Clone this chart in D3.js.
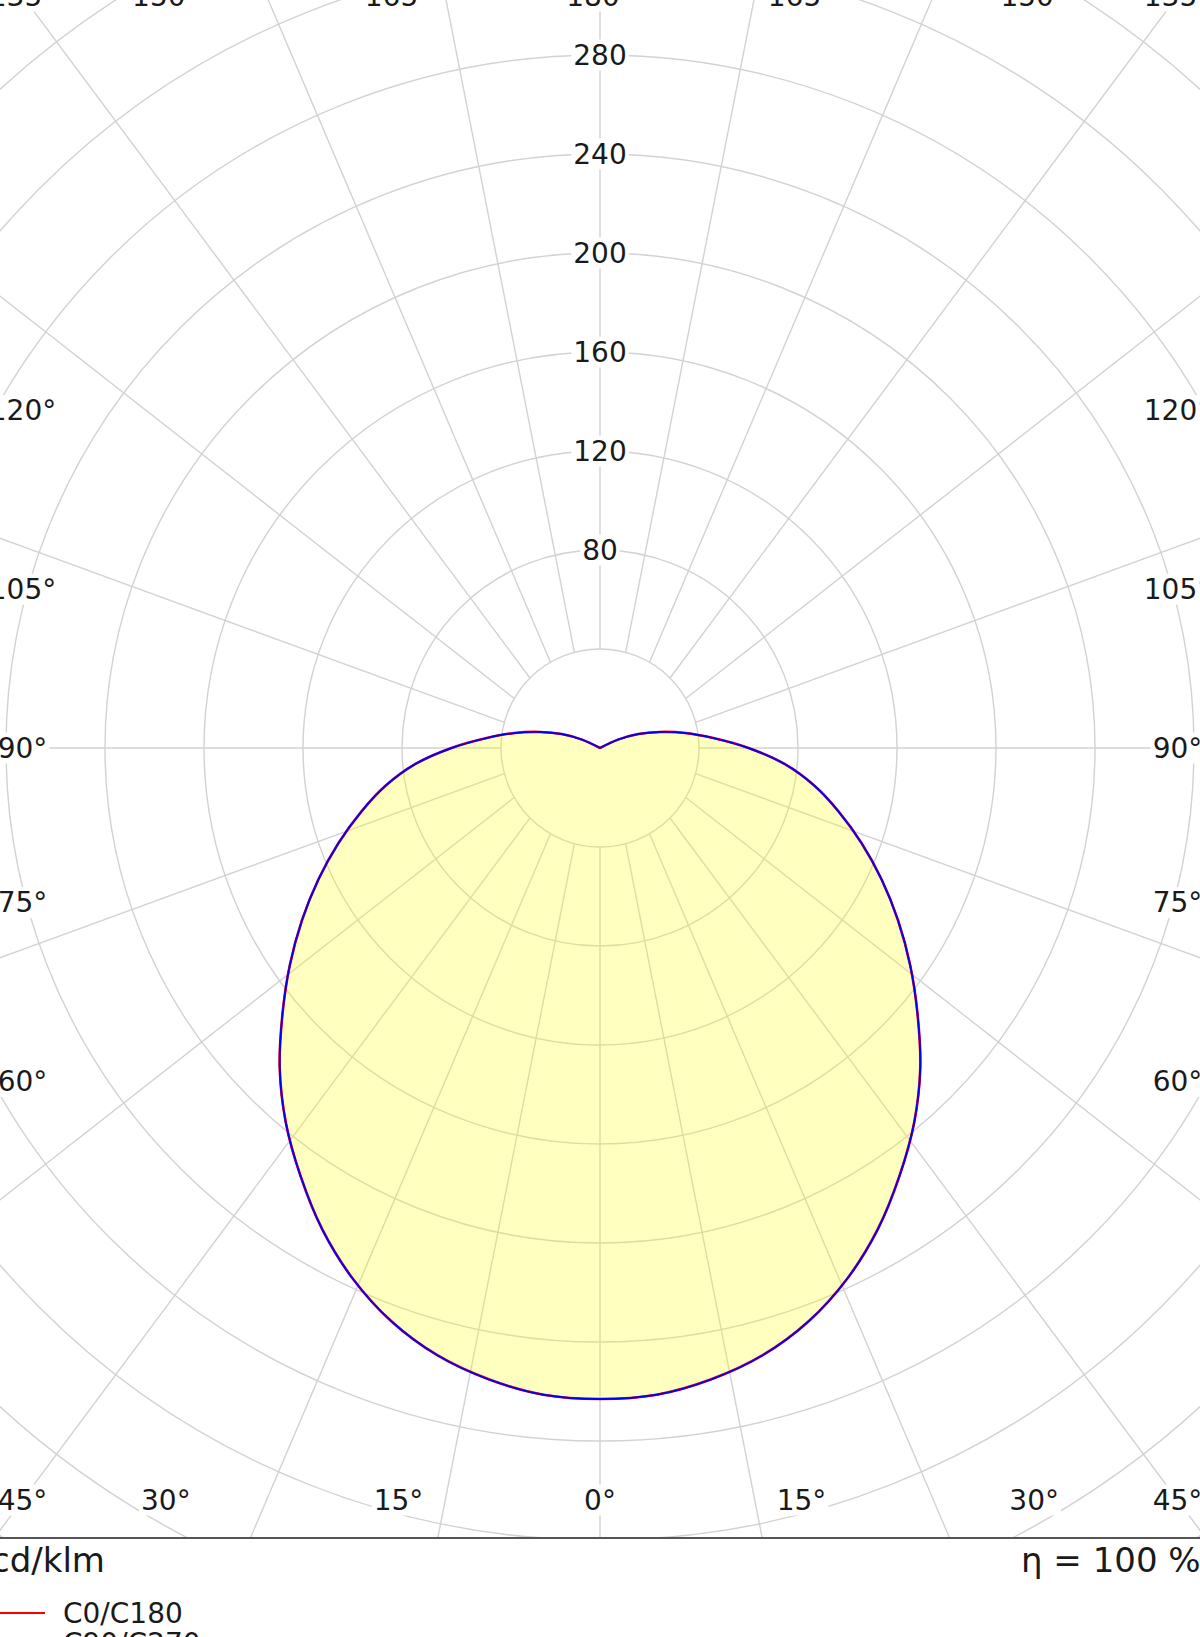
<!DOCTYPE html>
<html>
<head>
<meta charset="utf-8">
<script src="https://cdn.jsdelivr.net/npm/d3@7"></script>
<style>
  html, body { margin: 0; padding: 0; background: #fff; }
  svg { display: block; }
  text { font-family: "DejaVu Sans", Verdana, sans-serif; fill: #1a1a1a; }
</style>
</head>
<body>
<svg id="chart" width="1200" height="1637"></svg>
<script>
// ---- data (cd/klm, gamma angles in degrees) ----
const gammaAngles = [0, 5, 10, 15, 20, 25, 30, 35, 40, 45, 50, 55, 60, 65, 70, 75, 80, 85, 90,
                     95, 100, 105, 110, 115, 120, 125, 130, 135, 140, 145, 150, 155, 160, 165, 170, 175, 180];
const c0   = [263, 262.3, 259, 254, 246.5, 236.5, 224.5, 211, 197.5, 183, 167.5, 153, 139, 125.5, 112.5, 100, 88, 75, 60,
              46, 35, 25, 16.5, 8, 0, 0, 0, 0, 0, 0, 0, 0, 0, 0, 0, 0, 0];
const c180 = [263, 262.3, 259, 254, 246.5, 236.5, 224.5, 211, 197.5, 183, 167.5, 153, 139, 125.5, 112.5, 100, 88, 75, 60,
              46, 35, 25, 16.5, 8, 0, 0, 0, 0, 0, 0, 0, 0, 0, 0, 0, 0, 0];
const c90  = [263, 262.3, 259, 254, 246.5, 236.5, 224.5, 211, 197.5, 183, 167.5, 153, 139, 125.5, 112.5, 100, 88, 75, 60,
              46, 35, 25, 16.5, 8, 0, 0, 0, 0, 0, 0, 0, 0, 0, 0, 0, 0, 0];
const c270 = [263, 262.3, 259, 254, 246.5, 236.5, 224.5, 211, 197.5, 183, 167.5, 153, 139, 125.5, 112.5, 100, 88, 75, 60,
              46, 35, 25, 16.5, 8, 0, 0, 0, 0, 0, 0, 0, 0, 0, 0, 0, 0, 0];
const ringTicks = [40, 80, 120, 160, 200, 240, 280, 320, 360, 400, 440];
const ringLabels = [80, 120, 160, 200, 240, 280];
const angleTicks = [0, 15, 30, 45, 60, 75, 90, 105, 120, 135, 150, 165, 180];
const seriesNames = ["C0/C180", "C90/C270"];
const seriesColors = ["#ff0000", "#0000ff"];
const unitLabel = "cd/klm";
const effLabel = "η = 100 %";

// ---- layout ----
const W = 1200, H = 1637;
const cx = 600, cy = 748;
const halfW = 577.5, halfH = 752;
const plotBottom = 1538;

const svg = d3.select("#chart");
const r = d3.scaleLinear().domain([0, 40]).range([0, 99]);
const rad = d => d * Math.PI / 180;

const defs = svg.append("defs");
defs.append("clipPath").attr("id", "plotClip")
  .append("rect").attr("x", -20).attr("y", -100).attr("width", W + 40).attr("height", plotBottom + 100);

const plot = svg.append("g").attr("clip-path", "url(#plotClip)");
const g = plot.append("g").attr("transform", `translate(${cx},${cy})`);

// grid circles
g.selectAll("circle.ring").data(ringTicks).join("circle")
  .attr("class", "ring")
  .attr("r", d => r(d))
  .attr("fill", "none")
  .attr("stroke", "#d2d2d2")
  .attr("stroke-width", 1.4);

// grid rays: from the innermost ring at gamma toward the frame point of that gamma
function framePoint(a, s) {
  if (a <= 45) return [s * halfW * Math.tan(rad(a)), halfH];
  if (a >= 135) return [s * halfW * Math.tan(rad(180 - a)), -halfH];
  return [s * halfW, halfH * Math.cos(rad(a)) / Math.sin(rad(a))];
}
const rayData = [];
angleTicks.forEach(a => {
  const sides = (a === 0 || a === 180) ? [1] : [-1, 1];
  sides.forEach(s => rayData.push({a, s}));
});
rayData.forEach(d => {
  const p0 = [d.s * r(40) * Math.sin(rad(d.a)), r(40) * Math.cos(rad(d.a))];
  const p1 = framePoint(d.a, d.s);
  d.x1 = p0[0]; d.y1 = p0[1];
  d.x2 = p0[0] + (p1[0] - p0[0]) * 2;
  d.y2 = p0[1] + (p1[1] - p0[1]) * 2;
});
g.selectAll("line.ray").data(rayData).join("line")
  .attr("class", "ray")
  .attr("x1", d => d.x1).attr("y1", d => d.y1)
  .attr("x2", d => d.x2).attr("y2", d => d.y2)
  .attr("stroke", "#d2d2d2")
  .attr("stroke-width", 1.4);

// curves
function closedPoints(rightVals, leftVals) {
  const pts = [];
  for (let i = gammaAngles.length - 1; i >= 0; i--) pts.push([Math.PI + rad(gammaAngles[i]), r(leftVals[i])]);
  for (let i = 1; i < gammaAngles.length - 1; i++) pts.push([Math.PI - rad(gammaAngles[i]), r(rightVals[i])]);
  return pts;
}
const radialLine = d3.lineRadial().angle(d => d[0]).radius(d => d[1])
  .curve(d3.curveCatmullRomClosed.alpha(0.5));
const seriesPts = [closedPoints(c0, c180), closedPoints(c90, c270)];

g.append("path")
  .attr("d", radialLine(seriesPts[0]))
  .attr("fill", "#ffff00")
  .attr("fill-opacity", 0.25)
  .attr("stroke", "none");

seriesPts.forEach((pts, i) => {
  g.append("path")
    .attr("d", radialLine(pts))
    .attr("fill", "none")
    .attr("stroke", seriesColors[i])
    .attr("stroke-width", i === 0 ? 2.6 : 1.9)
    .attr("stroke-linejoin", "round");
});

// label helper with white background
function boxedLabel(parent, x, y, txt, size) {
  const grp = parent.append("g");
  const t = grp.append("text")
    .attr("x", x).attr("y", y)
    .attr("text-anchor", "middle")
    .attr("dominant-baseline", "central")
    .attr("font-size", size)
    .text(txt);
  const bb = t.node().getBBox();
  grp.insert("rect", "text")
    .attr("x", bb.x - 2).attr("y", bb.y + 1)
    .attr("width", bb.width + 4).attr("height", bb.height - 2)
    .attr("fill", "#fff");
}

// ring value labels along the upward line
ringLabels.forEach(v => boxedLabel(plot, cx, cy - r(v), String(v), 28));

// angle labels on the surrounding rectangle
rayData.forEach(({a, s}) => {
  let x, y;
  if (a <= 45) {
    y = cy + halfH;
    x = cx + s * Math.min(halfH * Math.tan(rad(a)), halfW);
  } else if (a >= 135) {
    y = cy - halfH;
    x = cx + s * Math.min(halfH * Math.tan(rad(180 - a)), halfW);
  } else {
    x = cx + s * halfW;
    y = cy + halfW * Math.cos(rad(a)) / Math.sin(rad(a)) - (a > 90 ? 4 : 0);
  }
  boxedLabel(plot, x, y, a + "°", 28);
});

// bottom border of plot
svg.append("line")
  .attr("x1", 0).attr("x2", W)
  .attr("y1", plotBottom).attr("y2", plotBottom)
  .attr("stroke", "#555")
  .attr("stroke-width", 2);

// unit and efficiency
svg.append("text").attr("x", -9).attr("y", 1572).attr("font-size", 34).text(unitLabel);
svg.append("text").attr("x", 1021).attr("y", 1572).attr("font-size", 34).text(effLabel);

// legend
seriesNames.forEach((name, i) => {
  const y = 1613 + i * 30;
  svg.append("line").attr("x1", -10).attr("x2", 45).attr("y1", y).attr("y2", y)
    .attr("stroke", seriesColors[i]).attr("stroke-width", 2);
  svg.append("text").attr("x", 63).attr("y", y + 10).attr("font-size", 28).text(name);
});
</script>
</body>
</html>
